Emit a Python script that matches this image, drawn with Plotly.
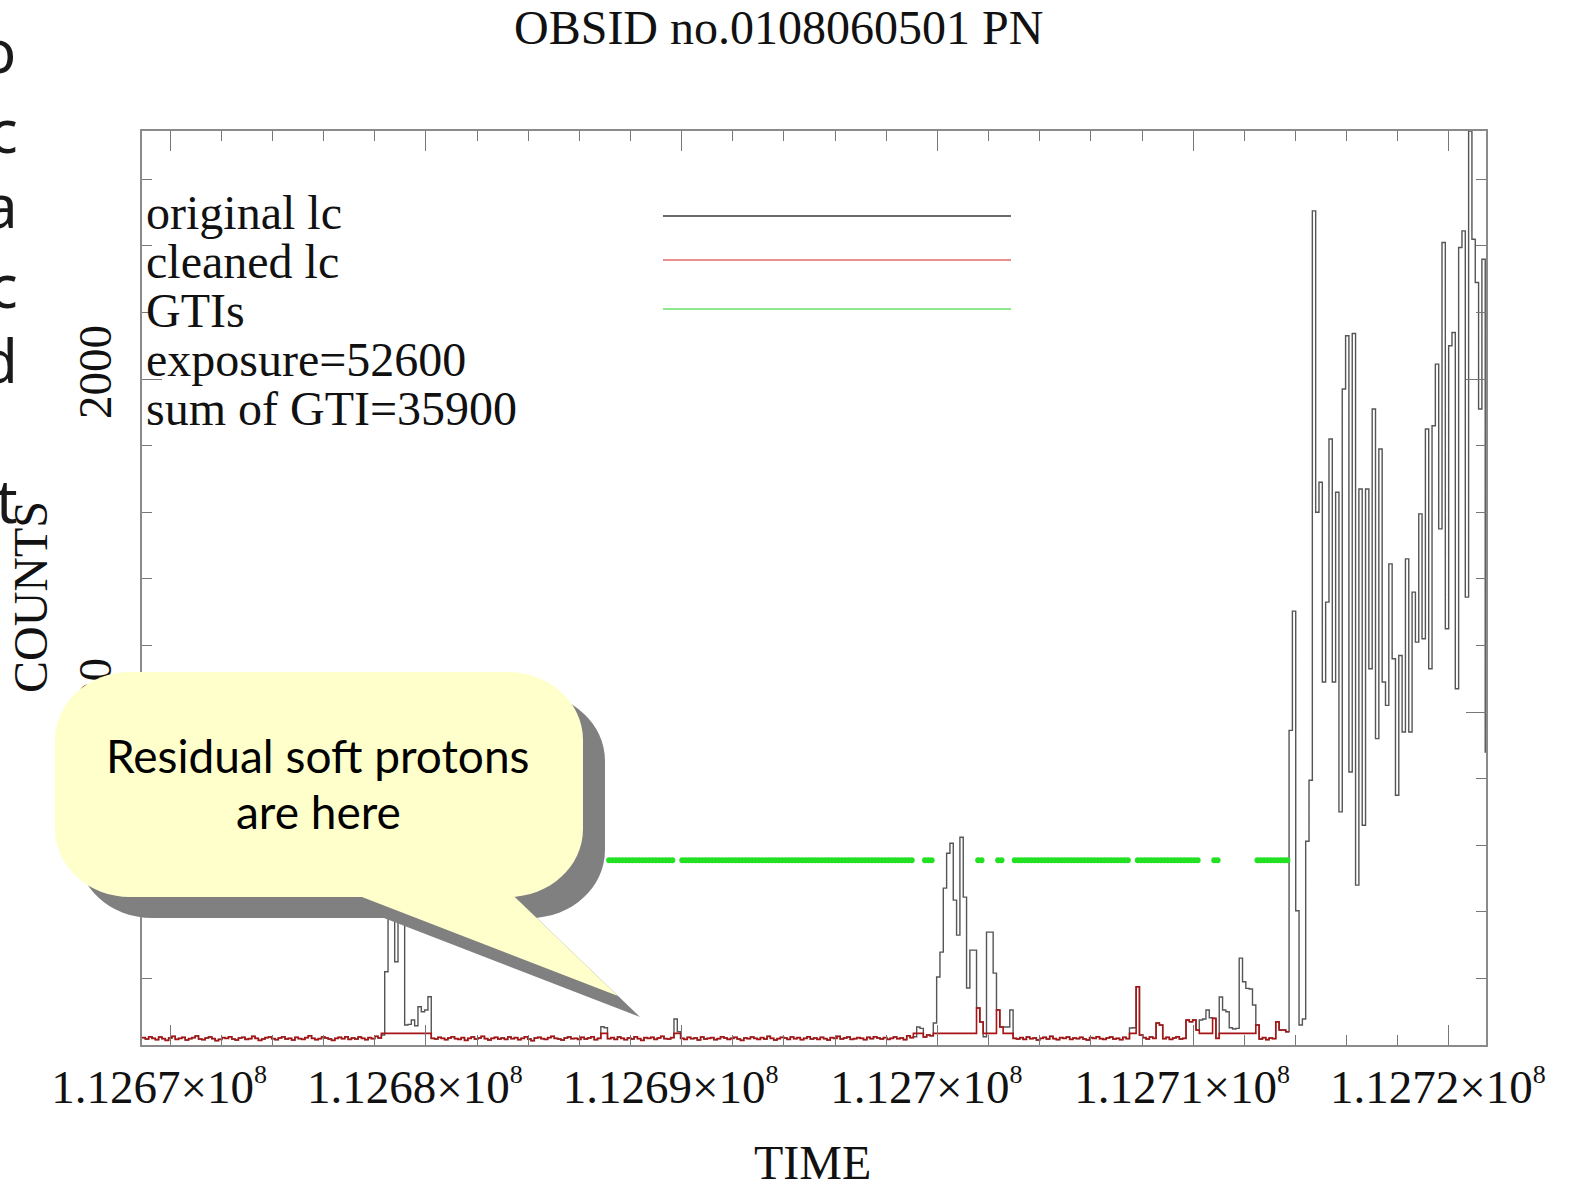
import numpy as np
import plotly.graph_objects as go

# ---------------- data ----------------
TSTART = 112668900.0      # start of first time bin (s)
BIN = 130.0               # bin width (s)

# counts per bin of the original light curve
BASE_0 = [22, 18, 25, 20, 16, 24, 19, 14, 21, 26, 17, 20, 23, 15, 19, 22, 27, 18, 16, 21,
          24, 19, 13, 17, 22, 20, 25, 18, 15, 21, 23, 17, 19, 26, 20, 14, 18, 22, 24, 19,
          16, 21, 25, 18, 20, 15, 23, 19, 17, 22, 28, 20, 16, 19, 24, 21, 18, 14, 20, 23,
          19, 25, 17, 21, 18, 24, 20, 16, 22, 19, 26, 21]
FLARE_1 = [30, 220, 420, 430, 250, 425, 415, 60, 62, 75, 58, 115, 100, 105, 145, 20]
BASE_1 = [18, 23, 20, 16, 21, 25, 19, 17, 22, 14, 20, 24, 18, 21, 26, 19, 15, 20, 23, 18,
          21, 17, 24, 19, 22, 16, 20, 25, 18, 13, 21, 23, 19, 17, 22, 26, 20, 18, 15, 21,
          24, 19, 20, 17, 23, 18, 21, 25, 16, 20,
          55, 52,
          19, 22, 17, 24, 20, 16, 21, 18, 25, 19, 14, 22, 20, 23, 17, 21, 26, 19, 18, 22,
          78, 40,
          20, 17, 23, 19, 21, 15, 24, 18, 20, 22, 16, 19, 25, 21, 17, 20, 23, 18, 14, 21,
          19, 24, 20, 17, 22, 18, 26, 20, 15, 19, 23, 21, 17, 24, 19, 22, 16, 20, 25, 18,
          21, 17, 23, 19, 15, 22, 20, 26, 18, 21, 24, 17, 19, 22, 20, 16, 23, 19, 25, 21,
          18, 22, 17, 20, 24, 19, 21, 16, 28, 22,
          25, 54, 50, 24, 30, 28]
FLARE_2 = [66, 204, 279, 471, 576, 606, 435, 330, 624, 444, 171, 285, 285, 111, 69, 25,
           339, 339, 216, 105, 54, 54, 54, 105, 20]
BASE_2 = [18, 22, 17, 24, 19, 21, 15, 20, 23, 18, 26, 19, 16, 22, 20, 24, 17, 21, 19, 23,
          18, 15, 22, 20, 25, 19, 17, 21, 24, 18, 20, 16, 23, 19,
          51, 52, 175, 30, 22, 18, 24, 20, 66, 60,
          19, 23, 17, 21, 25, 18, 20,
          75, 70, 75, 45, 75, 78, 105, 82, 80,
          20, 144, 105, 100, 52, 48, 50, 261, 190, 170, 168, 120, 60,
          18, 22, 16, 21, 19, 70, 45, 45, 40]
FLARE_3 = [945, 1303, 403, 60, 78, 612, 795, 2505, 1600, 1690,
           1090, 1330, 1820, 1090, 1660, 700, 1970, 2130, 820, 2137,
           480, 1670, 660, 1670, 1130, 1910, 920, 1790, 1090, 1020,
           1445, 1160, 750, 1170, 940, 1460, 940, 1360, 1210, 1595,
           1220, 1850, 1130, 1860, 2045, 1550, 2410, 1250, 2100, 2140,
           1070, 2395, 2445, 1345, 2745, 2420, 2290, 1910, 2360, 880]

# good time intervals (s)
GTI_START = [112668900, 112680210, 112687100, 112689960, 112699450, 112701530,
             112702310, 112702960, 112707770, 112710760, 112712450]
GTI_STOP = [112678260, 112686840, 112689700, 112699060, 112699840, 112701790,
            112702570, 112707510, 112710240, 112711020, 112713750]
GTI_LEVEL = 555          # height at which GTIs are marked
CLEAN_GAP_LEVEL = 35     # cleaned curve level inside rejected intervals

XTICK_VALUES = [112670000, 112680000, 112690000, 112700000, 112710000, 112720000]
XTICK_MANTISSA = ["1.1267", "1.1268", "1.1269", "1.127", "1.1271", "1.1272"]
XTICK_EXPONENT = 8
YTICK_VALUES = [1000, 2000]
YTICK_TEXT = ["1000", "2000"]
LEGEND_TEXT = ["original lc", "cleaned lc", "GTIs", "exposure=52600", "sum of GTI=35900"]

# ---------------- derived arrays ----------------
counts = np.array(BASE_0 + FLARE_1 + BASE_1 + FLARE_2 + BASE_2 + FLARE_3, dtype=float)
nbin = len(counts)
edges = TSTART + BIN * np.arange(nbin + 1)
centers = edges[:-1] + BIN / 2
in_gti = np.zeros(nbin, dtype=bool)
for a, b in zip(GTI_START, GTI_STOP):
    in_gti |= (centers >= a) & (centers < b)
last_good = int(np.nonzero(in_gti)[0].max())
cleaned = np.where(in_gti, counts, CLEAN_GAP_LEVEL)[: last_good + 1]

xtick_text = [f"{m}×10<sup><span style='font-size:26px'>{XTICK_EXPONENT}</span></sup>"
              for m in XTICK_MANTISSA]

# ---------------- page geometry ----------------
W, H = 1571, 1192
PL, PR, PT, PB = 142, 1486, 131, 1045


def px(x):
    return (x - PL) / (PR - PL)


def py(y):
    return (PB - y) / (PB - PT)


SERIF = "Liberation Serif"

fig = go.Figure()
fig.add_trace(go.Scatter(
    x=edges, y=np.append(counts, counts[-1]), mode="lines",
    line=dict(color="#555555", width=1.4, shape="hv"), hoverinfo="skip"))
fig.add_trace(go.Scatter(
    x=edges[: last_good + 2], y=np.append(cleaned, cleaned[-1]), mode="lines",
    line=dict(color="#a81414", width=1.6, shape="hv"), hoverinfo="skip"))
fig.add_trace(go.Scatter(
    x=centers[in_gti], y=np.full(in_gti.sum(), GTI_LEVEL), mode="markers",
    marker=dict(color="#22e022", size=6, line=dict(width=0)), hoverinfo="skip"))

axis_common = dict(
    showline=True, linecolor="#8a8a8a", linewidth=1.5, mirror="ticks",
    ticks="inside", ticklen=20, tickwidth=1, tickcolor="#777777",
    showgrid=False, zeroline=False,
    tickfont=dict(family=SERIF, size=47, color="#111111"),
)
fig.update_xaxes(
    range=[TSTART, 112721450], tickmode="array", tickvals=XTICK_VALUES, ticktext=xtick_text,
    minor=dict(ticks="inside", ticklen=10, tickcolor="#777777", dtick=2000, tick0=112670000),
    ticklabelstandoff=0, ticklabelshift=-11, **axis_common)
fig.update_yaxes(
    range=[0, 2745], tickmode="array", tickvals=YTICK_VALUES, ticktext=YTICK_TEXT,
    tickangle=-90, ticklabelstandoff=10,
    minor=dict(ticks="inside", ticklen=10, tickcolor="#777777", dtick=200, tick0=0),
    **axis_common)

annotations = []


def text(x, y, s, size=48, family=SERIF, xanchor="center", yanchor="middle", angle=0, color="#111111"):
    annotations.append(dict(
        x=px(x), y=py(y), xref="paper", yref="paper", text=s, showarrow=False,
        xanchor=xanchor, yanchor=yanchor, textangle=angle,
        font=dict(family=family, size=size, color=color)))


text(778, 28, "OBSID no.0108060501 PN")
text(812, 1162, "TIME")
text(30, 597, "COUNTS", angle=-90)
for k, s in enumerate(LEGEND_TEXT):
    text(144, 212 + 49 * k, s, xanchor="left")

# clipped words of the neighbouring slide text
for x, y, s in [(18, 50, "o"), (20, 130, "c"), (20, 205, "a"), (20, 285, "c"), (20, 360, "d"), (20, 500, "t")]:
    text(x, y, s, size=60, family="Noto Sans", xanchor="right", color="#1a1a1a")

# callout balloon
text(318, 755, "Residual soft protons", size=46, family="Lato", color="#000000")
text(318, 811, "are here", size=46, family="Lato", color="#000000")

shapes = []
# legend sample lines
for yy, col in [(216, "#6a6a6a"), (260, "#e89090"), (309, "#8fe88f")]:
    shapes.append(dict(type="line", xref="paper", yref="paper", x0=px(663), x1=px(1011),
                       y0=py(yy), y1=py(yy), line=dict(color=col, width=2), layer="above"))


def pt(x, y):
    return f"{px(x):.5f},{py(y):.5f}"


def rounded(x0, y0, x1, y1, rx, ry):
    k = 0.5523
    return (f"M{pt(x0 + rx, y0)} L{pt(x1 - rx, y0)} "
            f"C{pt(x1 - rx + k * rx, y0)} {pt(x1, y0 + ry - k * ry)} {pt(x1, y0 + ry)} "
            f"L{pt(x1, y1 - ry)} "
            f"C{pt(x1, y1 - ry + k * ry)} {pt(x1 - rx + k * rx, y1)} {pt(x1 - rx, y1)} "
            f"L{pt(x0 + rx, y1)} "
            f"C{pt(x0 + rx - k * rx, y1)} {pt(x0, y1 - ry + k * ry)} {pt(x0, y1 - ry)} "
            f"L{pt(x0, y0 + ry)} "
            f"C{pt(x0, y0 + ry - k * ry)} {pt(x0 + rx - k * rx, y0)} {pt(x0 + rx, y0)} Z")


def tail(dx, dy):
    return (f"M{pt(355 + dx, 880 + dy)} L{pt(497 + dx, 880 + dy)} "
            f"L{pt(618 + dx, 996 + dy)} L{pt(362 + dx, 897 + dy)} Z")


for dx, dy, col in [(22, 21, "#808080"), (0, 0, "#ffffcc")]:
    shapes.append(dict(type="path", xref="paper", yref="paper", layer="above",
                       path=rounded(55 + dx, 672 + dy, 583 + dx, 897 + dy, 75, 68),
                       fillcolor=col, line=dict(width=0)))
    shapes.append(dict(type="path", xref="paper", yref="paper", layer="above",
                       path=tail(dx, dy), fillcolor=col, line=dict(width=0)))

fig.update_layout(
    width=W, height=H, autosize=False,
    margin=dict(l=PL, r=W - PR, t=PT, b=H - PB, pad=0),
    paper_bgcolor="white", plot_bgcolor="white", showlegend=False,
    annotations=annotations, shapes=shapes,
)

fig.write_html("out.html")
